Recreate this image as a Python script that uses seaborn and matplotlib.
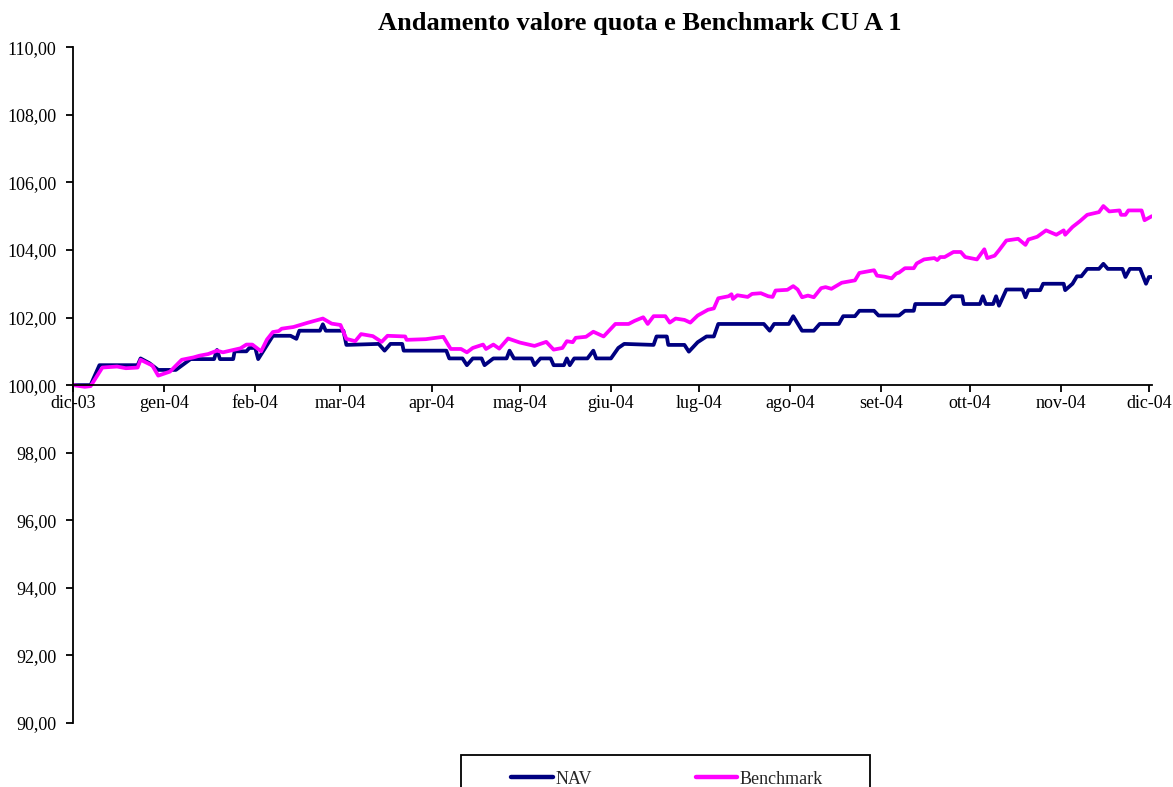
import pandas as pd
import seaborn as sns
import matplotlib.pyplot as plt
import matplotlib.dates as mdates
from matplotlib.patches import Rectangle
from matplotlib.ticker import FuncFormatter, FixedLocator

# days counted from 1 Dec 2003
nav_days = [0, 6, 7, 9, 22, 23, 26, 29, 35, 40, 48, 49, 50, 54.5, 55, 59, 60, 62,
            63, 68, 74, 76, 77, 84, 85, 86, 92, 93, 104, 106, 108, 112, 112.5, 127,
            128, 132.5, 134, 136, 139, 140, 143, 147.5, 148.5, 150, 156, 157, 159,
            162.5, 163.5, 167, 168, 169, 170.5, 175, 177, 178, 183, 185.5, 187.5,
            197.5, 198.5, 202, 202.5, 208, 209.5, 212.5, 215.5, 218, 219.5, 235,
            237, 238.5, 243.5, 245, 248, 252, 254, 260.5, 262, 266, 267.5, 272.5,
            274, 281, 283, 286, 286.5, 296.5, 299, 302.5, 303, 308.5, 309.5, 310.5,
            313, 314, 315, 317.5, 323, 324, 325, 329, 330, 337, 337.5, 340, 341.5,
            343, 345, 349, 350.5, 352, 357, 358, 359.5, 363, 365, 366, 367]
nav_values = [100.0, 100.0, 100.2, 100.59, 100.59, 100.79, 100.65, 100.45, 100.45,
              100.77, 100.77, 101.04, 100.77, 100.77, 101.0, 101.0, 101.1, 101.1,
              100.77, 101.46, 101.46, 101.37, 101.61, 101.61, 101.8, 101.61, 101.61,
              101.19, 101.22, 101.02, 101.22, 101.22, 101.02, 101.02, 100.79, 100.79,
              100.59, 100.79, 100.79, 100.59, 100.79, 100.79, 101.02, 100.79, 100.79,
              100.59, 100.79, 100.79, 100.59, 100.59, 100.79, 100.59, 100.79, 100.79,
              101.02, 100.79, 100.79, 101.1, 101.22, 101.19, 101.44, 101.44, 101.19,
              101.19, 100.99, 101.27, 101.44, 101.44, 101.81, 101.81, 101.61, 101.81,
              101.81, 102.04, 101.61, 101.61, 101.81, 101.81, 102.04, 102.04, 102.2,
              102.2, 102.06, 102.06, 102.2, 102.2, 102.4, 102.4, 102.63, 102.63,
              102.4, 102.4, 102.63, 102.4, 102.4, 102.63, 102.35, 102.83, 102.83,
              102.6, 102.81, 102.81, 103.0, 103.0, 102.81, 103.0, 103.22, 103.22,
              103.44, 103.44, 103.59, 103.44, 103.44, 103.2, 103.44, 103.44, 103.0,
              103.2, 103.2]

bench_days = [0, 4, 6, 10, 15, 18, 22, 23, 27, 29, 33, 37, 41, 43, 46, 49, 51, 57,
              59, 61, 64, 66, 68, 70, 71, 75, 78, 80, 85, 88, 91, 93, 96, 98, 102,
              105, 107, 113, 113.5, 120, 126, 128.5, 132, 134, 136, 139.5, 140.5,
              143, 145, 148, 152, 157, 161, 163.5, 166.5, 168, 170, 171, 174.5, 177,
              180.5, 184.5, 189, 191, 194, 195.5, 197.5, 201.5, 203, 205, 208, 210,
              212.5, 216, 218, 219.5, 223, 224, 224.5, 226, 229.5, 231, 234, 236.5,
              238, 239, 243, 245, 246.5, 248, 250, 252, 254.5, 256, 258, 261.5, 266,
              267.5, 272.5, 273.5, 276, 278.5, 280, 281, 283, 286, 287, 289.5, 293,
              294, 295, 296.5, 299.5, 302, 303.5, 307.5, 310, 311, 313.5, 315, 317.5,
              321.5, 324, 325, 328, 331, 334.5, 337, 337.5, 340, 342.5, 345, 349,
              350.5, 352.5, 356, 356.5, 358, 359, 363.5, 364.5, 367]
bench_values = [100.0, 99.95, 99.97, 100.52, 100.55, 100.5, 100.52, 100.75, 100.58,
                100.28, 100.4, 100.75, 100.82, 100.87, 100.92, 101.02, 100.97, 101.09,
                101.2, 101.2, 101.0, 101.35, 101.57, 101.6, 101.67, 101.72, 101.8,
                101.85, 101.97, 101.82, 101.78, 101.37, 101.3, 101.51, 101.45, 101.28,
                101.46, 101.44, 101.34, 101.36, 101.43, 101.07, 101.07, 100.97, 101.1,
                101.2, 101.07, 101.2, 101.08, 101.38, 101.26, 101.16, 101.28, 101.05,
                101.1, 101.3, 101.27, 101.4, 101.43, 101.58, 101.44, 101.81, 101.81,
                101.9, 102.01, 101.81, 102.04, 102.04, 101.85, 101.97, 101.93, 101.85,
                102.06, 102.23, 102.27, 102.57, 102.63, 102.69, 102.55, 102.66, 102.61,
                102.7, 102.72, 102.63, 102.61, 102.8, 102.82, 102.93, 102.83, 102.6,
                102.65, 102.6, 102.87, 102.9, 102.85, 103.03, 103.1, 103.32, 103.4,
                103.24, 103.21, 103.16, 103.3, 103.33, 103.46, 103.46, 103.6, 103.72,
                103.76, 103.7, 103.79, 103.79, 103.94, 103.94, 103.79, 103.72, 104.02,
                103.76, 103.83, 103.99, 104.28, 104.33, 104.15, 104.31, 104.39, 104.58,
                104.45, 104.58, 104.45, 104.68, 104.85, 105.04, 105.12, 105.3, 105.14,
                105.17, 105.04, 105.04, 105.17, 105.17, 104.88, 105.0]

month_labels = ["dic-03", "gen-04", "feb-04", "mar-04", "apr-04", "mag-04", "giu-04",
                "lug-04", "ago-04", "set-04", "ott-04", "nov-04", "dic-04"]
series_names = ["NAV", "Benchmark"]
colors = {"NAV": "#000080", "Benchmark": "#FF00FF"}

start = pd.Timestamp("2003-12-01")
nav = pd.DataFrame({"date": start + pd.to_timedelta(nav_days, unit="D"),
                    "value": nav_values, "serie": series_names[0]})
bench = pd.DataFrame({"date": start + pd.to_timedelta(bench_days, unit="D"),
                      "value": bench_values, "serie": series_names[1]})
df = pd.concat([nav, bench], ignore_index=True)

sns.set_theme(style="white")
plt.rcParams["font.family"] = ["Liberation Serif", "DejaVu Serif"]

fig = plt.figure(figsize=(11.73, 7.87), dpi=100)
ax = fig.add_axes([0.0622, 0.0813, 0.9198, 0.8587])

sns.lineplot(data=df, x="date", y="value", hue="serie", palette=colors,
             linewidth=2.7, estimator=None, sort=False, ax=ax, legend=False)

ax.set_xlim(start, start + pd.Timedelta(days=367))
ax.set_ylim(90, 110)
ax.set_xlabel("")
ax.set_ylabel("")

month_ticks = pd.date_range(start, periods=len(month_labels), freq="MS")
ax.xaxis.set_major_locator(FixedLocator(mdates.date2num(month_ticks)))
ax.set_xticklabels(month_labels)
ax.set_yticks(range(90, 111, 2))
ax.yaxis.set_major_formatter(FuncFormatter(lambda v, p: f"{v:.2f}".replace(".", ",")))

for side in ["top", "right"]:
    ax.spines[side].set_visible(False)
for side in ["left", "bottom"]:
    ax.spines[side].set_color("black")
    ax.spines[side].set_linewidth(1.3)
ax.spines["bottom"].set_position(("data", 100))

ax.tick_params(axis="both", direction="out", length=5, width=1.3, color="black",
               labelsize=13, labelcolor="black", bottom=True, left=True)
ax.tick_params(axis="x", pad=2)
ax.tick_params(axis="y", pad=7)

fig.text(0.545, 0.97, "Andamento valore quota e Benchmark CU A 1",
         ha="center", va="center", fontsize=19, fontweight="bold", color="black")

# legend box, open at the bottom edge of the image
fig.patches.append(Rectangle((461 / 1173, -0.05), 409 / 1173, 0.05 + 32 / 787,
                             transform=fig.transFigure, fill=False,
                             edgecolor="black", linewidth=1.3))
handles = [plt.Line2D([], [], color=colors[n], linewidth=3.2) for n in series_names]
fig.legend(handles, series_names, loc="center left", ncol=2, frameon=False,
           bbox_to_anchor=(511 / 1173, 1 - 779 / 787), fontsize=13,
           borderpad=0, borderaxespad=0, handlelength=2.3, handletextpad=0.15,
           columnspacing=5.75)

fig.savefig("out.png", dpi=100)
